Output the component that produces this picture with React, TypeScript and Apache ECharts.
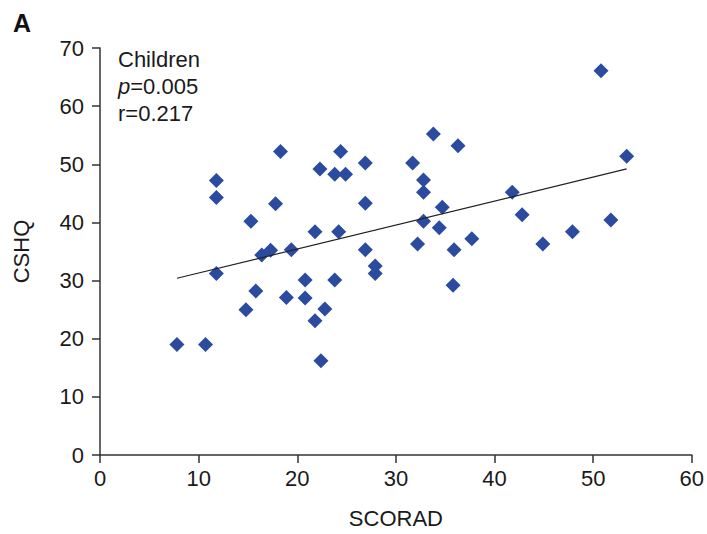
import React, { useEffect, useRef } from "react";
import * as echarts from "echarts";

const scoradValues = [
  7.8, 10.7, 11.8, 11.8, 11.8, 14.8, 15.8, 15.3, 17.8, 18.3,
  16.4, 17.3, 19.4, 18.9, 20.8, 20.8, 22.3, 24.4, 23.8, 24.9,
  26.9, 26.9, 21.8, 24.2, 26.9, 27.9, 27.9, 23.8, 22.8, 21.8,
  22.4, 31.7, 33.8, 36.3, 32.8, 32.8, 34.7, 32.8, 34.4, 32.2,
  35.9, 37.7, 35.8, 50.8, 53.4, 41.8, 42.8, 44.9, 47.9, 51.8,
];
const cshqValues = [
  19.0, 19.0, 47.2, 44.3, 31.2, 25.0, 28.2, 40.2, 43.2, 52.2,
  34.4, 35.2, 35.3, 27.1, 30.1, 27.0, 49.2, 52.2, 48.3, 48.3,
  50.2, 43.3, 38.4, 38.4, 35.3, 32.5, 31.2, 30.1, 25.1, 23.1,
  16.2, 50.2, 55.2, 53.2, 47.3, 45.2, 42.6, 40.2, 39.1, 36.3,
  35.3, 37.2, 29.2, 66.1, 51.4, 45.2, 41.3, 36.3, 38.4, 40.4,
];
const trendX = [7.8, 53.4];
const trendY = [30.4, 49.2];
const xTicks = [0, 10, 20, 30, 40, 50, 60];
const yTicks = [0, 10, 20, 30, 40, 50, 60, 70];
const annotations = ["Children", "p=0.005", "r=0.217"];

export default function App() {
  const ref = useRef<HTMLDivElement>(null);
  useEffect(() => {
    document.body.style.margin = "0";
    if (!ref.current) return;
    const chart = echarts.init(ref.current, null, { renderer: "svg" });
    const font = "'Liberation Sans', Arial, sans-serif";
    const axisColor = "#333333";
    const textColor = "#1a1a1a";
    const points = scoradValues.map((x, i) => [x, cshqValues[i]]);
    const trend = trendX.map((x, i) => [x, trendY[i]]);
    chart.setOption({
      animation: false,
      backgroundColor: "#ffffff",
      grid: { left: 100, right: 15, top: 48, bottom: 77, containLabel: false },
      xAxis: {
        type: "value",
        min: xTicks[0],
        max: xTicks[xTicks.length - 1],
        interval: 10,
        name: "SCORAD",
        nameLocation: "middle",
        nameGap: 52,
        nameTextStyle: { fontFamily: font, fontSize: 22, color: textColor },
        axisLine: { show: true, onZero: false, lineStyle: { color: axisColor, width: 1.5 } },
        axisTick: { show: true, inside: false, length: 8, lineStyle: { color: axisColor, width: 1.5 } },
        axisLabel: { fontFamily: font, fontSize: 22, color: textColor, margin: 12 },
        splitLine: { show: false },
      },
      yAxis: {
        type: "value",
        min: yTicks[0],
        max: yTicks[yTicks.length - 1],
        interval: 10,
        name: "CSHQ",
        nameLocation: "middle",
        nameGap: 68,
        nameRotate: 90,
        nameTextStyle: { fontFamily: font, fontSize: 22, color: textColor },
        axisLine: { show: true, onZero: false, lineStyle: { color: axisColor, width: 1.5 } },
        axisTick: { show: true, inside: false, length: 8, lineStyle: { color: axisColor, width: 1.5 } },
        axisLabel: { fontFamily: font, fontSize: 22, color: textColor, margin: 16 },
        splitLine: { show: false },
      },
      series: [
        {
          type: "line",
          data: trend,
          symbol: "none",
          lineStyle: { color: "#222", width: 1.2 },
          z: 3,
        },
        {
          type: "scatter",
          data: points,
          symbol: "diamond",
          symbolSize: 15,
          itemStyle: { color: "#2B4C9E", opacity: 1 },
          z: 2,
        },
      ],
      graphic: [
        {
          type: "text",
          left: 13,
          top: 10,
          style: { text: "A", fontFamily: font, fontSize: 25, fontWeight: "bold", fill: "#111" },
        },
        {
          type: "text",
          left: 118,
          top: 48,
          style: { text: annotations[0], fontFamily: font, fontSize: 22, fill: textColor },
        },
        {
          type: "text",
          left: 118,
          top: 75,
          style: {
            rich: {
              i: { fontFamily: font, fontSize: 22, fontStyle: "italic", fill: textColor },
              n: { fontFamily: font, fontSize: 22, fill: textColor },
            },
            text: "{i|" + annotations[1].slice(0, 1) + "}{n|" + annotations[1].slice(1) + "}",
          },
        },
        {
          type: "text",
          left: 118,
          top: 102,
          style: { text: annotations[2], fontFamily: font, fontSize: 22, fill: textColor },
        },
      ],
    });
    return () => chart.dispose();
  }, []);
  return <div ref={ref} style={{ width: 707, height: 534 }} />;
}
